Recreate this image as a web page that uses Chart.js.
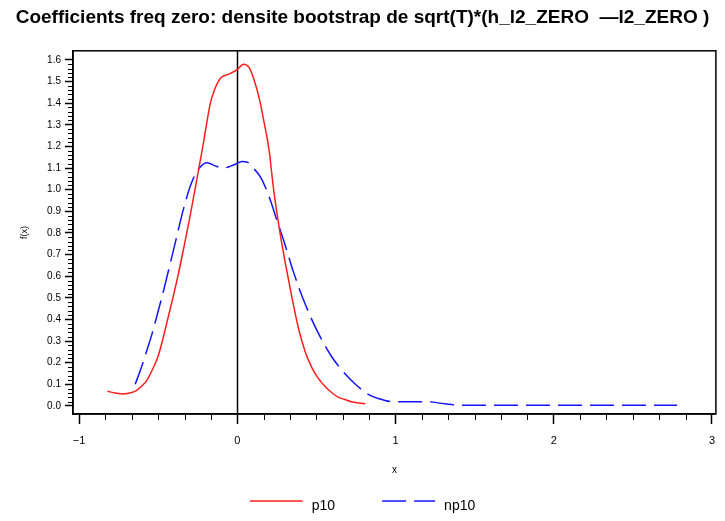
<!DOCTYPE html>
<html>
<head>
<meta charset="utf-8">
<script src="https://cdn.jsdelivr.net/npm/chart.js@4/dist/chart.umd.min.js"></script>
<style>
    html, body { margin: 0; padding: 0; background: #fff; }
</style>
</head>
<body>
<canvas id="densiteChart" width="725" height="521"></canvas>
<script>
// Valeurs
const p10X = [-0.82, -0.77, -0.725, -0.68, -0.64, -0.60, -0.57, -0.535, -0.50, -0.47, -0.44, -0.41, -0.375, -0.33, -0.30, -0.27, -0.22, -0.19, -0.17, -0.145, -0.12, -0.10, -0.05, 0.0, 0.04, 0.075, 0.105, 0.14, 0.17, 0.20, 0.23, 0.275, 0.325, 0.36, 0.39, 0.43, 0.47, 0.51, 0.555, 0.60, 0.64, 0.68, 0.72, 0.81];
const p10Y = [0.068, 0.06, 0.055, 0.06, 0.07, 0.095, 0.12, 0.17, 0.23, 0.31, 0.40, 0.49, 0.60, 0.76, 0.87, 0.99, 1.19, 1.32, 1.40, 1.46, 1.50, 1.52, 1.535, 1.555, 1.58, 1.565, 1.51, 1.42, 1.31, 1.19, 1.0, 0.78, 0.58, 0.45, 0.35, 0.25, 0.18, 0.13, 0.09, 0.06, 0.04, 0.03, 0.02, 0.01];

const np10X = [-0.645, -0.61, -0.57, -0.54, -0.51, -0.46, -0.42, -0.39, -0.34, -0.29, -0.24, -0.19, -0.14, -0.09, -0.02, 0.03, 0.07, 0.095, 0.15, 0.20, 0.25, 0.30, 0.355, 0.43, 0.51, 0.595, 0.68, 0.74, 0.825, 0.89, 0.99, 1.14, 1.20, 1.31, 1.42, 1.6, 2.0, 2.4, 2.78];
const np10Y = [0.10, 0.17, 0.26, 0.33, 0.41, 0.55, 0.67, 0.76, 0.91, 1.03, 1.10, 1.125, 1.11, 1.10, 1.115, 1.13, 1.125, 1.105, 1.055, 0.97, 0.86, 0.75, 0.62, 0.47, 0.34, 0.23, 0.15, 0.105, 0.055, 0.035, 0.02, 0.02, 0.02, 0.01, 0.003, 0.003, 0.003, 0.003, 0.004];

const xTicks = [-1, 0, 1, 2, 3];
const yTicks = [0.0, 0.1, 0.2, 0.3, 0.4, 0.5, 0.6, 0.7, 0.8, 0.9, 1.0, 1.1, 1.2, 1.3, 1.4, 1.5, 1.6];

const titre = 'Coefficients freq zero: densite bootstrap de sqrt(T)*(h_l2_ZERO  \u2014l2_ZERO )';
const police = '"Liberation Sans", Arial, Helvetica, sans-serif';

function toPoints(xs, ys) {
    return xs.map((x, i) => ({x: x, y: ys[i]}));
}

// cadre, ligne x=0, petites graduations et légende
const cadrePlugin = {
    id: 'cadre',
    beforeDatasetsDraw(chart) {
        const ctx = chart.ctx;
        const a = chart.chartArea;
        const x0 = chart.scales.x.getPixelForValue(0);
        ctx.save();
        ctx.strokeStyle = '#000';
        ctx.lineWidth = 1.5;
        ctx.beginPath();
        ctx.moveTo(Math.round(x0) + 0.5, a.top);
        ctx.lineTo(Math.round(x0) + 0.5, a.bottom);
        ctx.stroke();
        ctx.restore();
    },
    afterDraw(chart) {
        const ctx = chart.ctx;
        const a = chart.chartArea;
        const sx = chart.scales.x;
        const sy = chart.scales.y;
        ctx.save();
        ctx.strokeStyle = '#000';
        ctx.lineWidth = 1.5;
        ctx.strokeRect(a.left, a.top, a.right - a.left, a.bottom - a.top);

        ctx.lineWidth = 1;
        ctx.beginPath();
        for (let i = -6; i <= 18; i++) {
            if (i % 6 === 0) continue;
            const px = Math.round(sx.getPixelForValue(i / 6)) + 0.5;
            ctx.moveTo(px, a.bottom);
            ctx.lineTo(px, a.bottom + 6);
        }
        for (let i = 0; i <= 80; i++) {
            if (i % 5 === 0) continue;
            const py = Math.round(sy.getPixelForValue(i / 50)) + 0.5;
            ctx.moveTo(a.left, py);
            ctx.lineTo(a.left - 5, py);
        }
        ctx.stroke();

        // légende
        ctx.font = '14px ' + police;
        ctx.textBaseline = 'middle';
        ctx.textAlign = 'left';
        const items = chart.data.datasets;
        const ligne = 53, ecart = 9, entre = 47;
        let total = 0;
        items.forEach((ds, i) => {
            total += ligne + ecart + ctx.measureText(ds.label).width + (i > 0 ? entre : 0);
        });
        let x = (chart.width - total) / 2;
        const y = 501;
        items.forEach((ds, i) => {
            if (i > 0) x += entre;
            ctx.strokeStyle = ds.borderColor;
            ctx.lineWidth = 1.5;
            ctx.setLineDash(ds.borderDash || []);
            ctx.beginPath();
            ctx.moveTo(x, y);
            ctx.lineTo(x + ligne, y);
            ctx.stroke();
            ctx.setLineDash([]);
            x += ligne + ecart;
            ctx.fillStyle = '#000';
            ctx.fillText(ds.label, x, y + 5);
            x += ctx.measureText(ds.label).width;
        });
        ctx.restore();
    }
};

const ctx = document.getElementById('densiteChart').getContext('2d');
new Chart(ctx, {
    type: 'line',
    data: {
        datasets: [
            {
                label: 'p10',
                data: toPoints(p10X, p10Y),
                borderColor: 'rgb(255, 30, 30)',
                borderWidth: 1.5,
                pointRadius: 0,
                fill: false,
                cubicInterpolationMode: 'monotone'
            },
            {
                label: 'np10',
                data: toPoints(np10X, np10Y),
                borderColor: 'rgb(20, 20, 255)',
                borderWidth: 1.5,
                borderDash: [24, 8],
                pointRadius: 0,
                fill: false,
                cubicInterpolationMode: 'monotone'
            }
        ]
    },
    options: {
        responsive: false,
        animation: false,
        layout: { padding: 0 },
        plugins: {
            legend: { display: false },
            tooltip: { enabled: false },
            title: {
                display: true,
                text: titre,
                color: '#000',
                font: { family: police, size: 19, weight: 'bold' },
                padding: { top: 6, bottom: 22 }
            }
        },
        scales: {
            x: {
                type: 'linear',
                min: -1.038,
                max: 3.025,
                afterBuildTicks: function (scale) {
                    scale.ticks = xTicks.map(v => ({value: v}));
                },
                afterFit: function (scale) {
                    scale.height = 107;
                },
                grid: { drawOnChartArea: false, tickLength: 10, tickColor: '#000', tickWidth: 1.5 },
                border: { color: '#000', width: 1.5 },
                ticks: {
                    color: '#000',
                    padding: 10,
                    maxRotation: 0,
                    font: { family: police, size: 11 },
                    callback: function (value) {
                        return value < 0 ? '\u2212' + Math.abs(value) : String(value);
                    }
                },
                title: {
                    display: true,
                    text: 'x',
                    color: '#000',
                    font: { family: police, size: 10 },
                    padding: { top: 0, bottom: 45 }
                }
            },
            y: {
                type: 'linear',
                min: -0.037,
                max: 1.642,
                afterBuildTicks: function (scale) {
                    scale.ticks = yTicks.map(v => ({value: v}));
                },
                afterFit: function (scale) {
                    scale.width = 73;
                },
                grid: { drawOnChartArea: false, tickLength: 8, tickColor: '#000', tickWidth: 1.5 },
                border: { color: '#000', width: 1.5 },
                ticks: {
                    color: '#000',
                    padding: 4,
                    font: { family: police, size: 10 },
                    callback: function (value) {
                        return value.toFixed(1);
                    }
                },
                title: {
                    display: true,
                    text: 'f(x)',
                    color: '#000',
                    font: { family: police, size: 9 },
                    padding: { top: 19, bottom: 0 }
                }
            }
        }
    },
    plugins: [cadrePlugin]
});
</script>
</body>
</html>
